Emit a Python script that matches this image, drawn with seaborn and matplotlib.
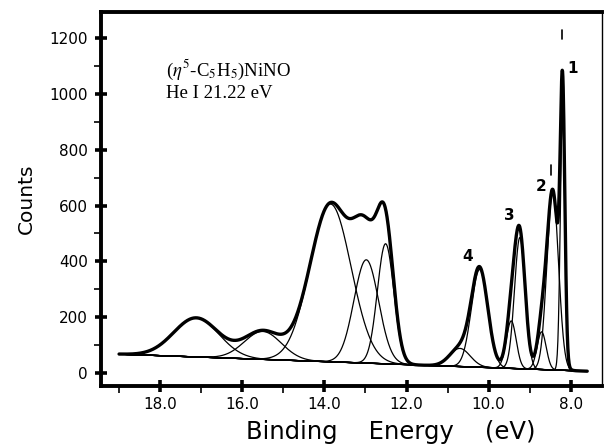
import numpy as np
import pandas as pd
import matplotlib
matplotlib.use("Agg")
import matplotlib.pyplot as plt
import seaborn as sns

# ---- data ----
peak_centers = [17.12, 15.50, 13.85, 12.98, 12.51, 10.70, 10.22, 9.45, 9.24, 8.71, 8.44, 8.20]
peak_heights = [140, 100, 565, 370, 430, 65, 350, 170, 470, 135, 640, 922]
peak_widths = [0.55, 0.45, 0.50, 0.30, 0.20, 0.25, 0.20, 0.12, 0.13, 0.11, 0.14, 0.055]
baseline_ends_ev = [19.0, 7.6]
baseline_ends_counts = [68, 7]
band_labels = ["1", "2", "3", "4"]
band_label_pos_ev = [7.95, 8.72, 9.50, 10.51]
band_label_pos_counts = [1090, 668, 563, 418]
x_major = [18.0, 16.0, 14.0, 12.0, 10.0, 8.0]
x_minor = [19.0, 17.0, 15.0, 13.0, 11.0, 9.0]
y_major = [0, 200, 400, 600, 800, 1000, 1200]
y_minor = [100, 300, 500, 700, 900, 1100]

sns.set_style("ticks")
plt.rcParams["font.family"] = ["DejaVu Sans"]
plt.rcParams["mathtext.fontset"] = "stix"
plt.rcParams["text.color"] = "black"
plt.rcParams["axes.labelcolor"] = "black"
plt.rcParams["xtick.color"] = "black"
plt.rcParams["ytick.color"] = "black"

fig = plt.figure(figsize=(6.04, 4.45), dpi=100)
ax = fig.add_axes([101 / 604, 1 - 386 / 445, 501 / 604, 374 / 445])

energy = np.linspace(baseline_ends_ev[0], baseline_ends_ev[1], 1500)
base = np.interp(energy, baseline_ends_ev[::-1], baseline_ends_counts[::-1])

rows = []
envelope = base.copy()
for i, (c, h, w) in enumerate(zip(peak_centers, peak_heights, peak_widths)):
    comp = h * np.exp(-((energy - c) ** 2) / (2 * w ** 2))
    envelope = envelope + comp
    rows.append(pd.DataFrame({"energy": energy, "counts": base + comp, "curve": f"c{i}"}))
comp_df = pd.concat(rows, ignore_index=True)
env_df = pd.DataFrame({"energy": energy, "counts": envelope})
base_df = pd.DataFrame({"energy": energy, "counts": base})

sns.lineplot(data=comp_df, x="energy", y="counts", units="curve", estimator=None,
             color="black", linewidth=0.9, sort=False, ax=ax)
sns.lineplot(data=base_df, x="energy", y="counts", color="black", linewidth=0.9,
             sort=False, ax=ax)
sns.lineplot(data=env_df, x="energy", y="counts", color="black", linewidth=2.4,
             sort=False, ax=ax)

ax.set_xlim(19.44, 7.24)
ax.set_ylim(-46, 1293)

ax.set_xticks(x_major)
ax.set_xticklabels([f"{v:.1f}" for v in x_major])
ax.set_xticks(x_minor, minor=True)
ax.set_yticks(y_major)
ax.set_yticklabels([str(v) for v in y_major])
ax.set_yticks(y_minor, minor=True)

ax.tick_params(which="major", direction="inout", length=9, width=2.6, labelsize=11,
               color="black", labelcolor="black")
ax.tick_params(axis="y", which="major", pad=5)
ax.tick_params(axis="x", which="major", pad=3.5)
ax.tick_params(which="minor", direction="out", length=5, width=1.2, color="black")

for side in ["left", "bottom", "top"]:
    ax.spines[side].set_linewidth(2.8)
    ax.spines[side].set_color("black")
ax.spines["right"].set_linewidth(1.0)
ax.spines["right"].set_color("black")
ax.spines["right"].set_visible(True)
ax.spines["top"].set_visible(True)

ax.set_xlabel("")
ax.set_ylabel("Counts", fontsize=14.5, labelpad=10, color="black")
fig.text(391 / 604, 6 / 445, "Binding    Energy    (eV)", fontsize=17.5,
         ha="center", va="baseline", color="black")

ax.text(0.13, 0.846, r"($\eta^5$-C$_5$H$_5$)NiNO", transform=ax.transAxes,
        fontsize=13.5, family="Liberation Serif", va="center", ha="left", color="black")
ax.text(0.13, 0.783, "He I 21.22 eV", transform=ax.transAxes,
        fontsize=13.5, family="Liberation Serif", va="center", ha="left", color="black")

for lab, xe, yc in zip(band_labels, band_label_pos_ev, band_label_pos_counts):
    ax.text(xe, yc, lab, fontsize=11, fontweight="bold", ha="center", va="center",
            color="black")

# small marker ticks above the two sharp bands
ax.plot([8.21, 8.21], [1195, 1230], color="black", lw=1.2)
ax.plot([8.47, 8.47], [710, 745], color="black", lw=1.2)

fig.savefig("out.png", dpi=100)
